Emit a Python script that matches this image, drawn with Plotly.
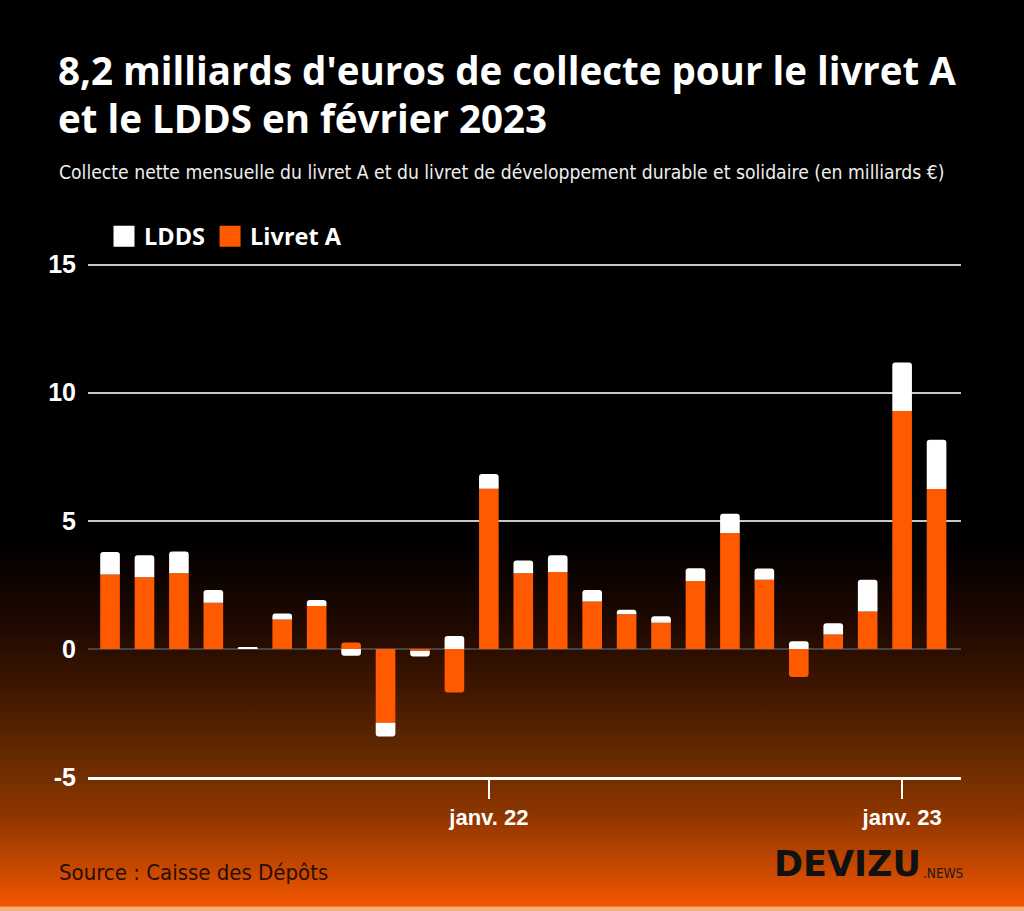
import base64
import plotly.graph_objects as go

# ---------------- data ----------------
months = ["2021-02", "2021-03", "2021-04", "2021-05", "2021-06", "2021-07", "2021-08",
          "2021-09", "2021-10", "2021-11", "2021-12", "2022-01", "2022-02", "2022-03",
          "2022-04", "2022-05", "2022-06", "2022-07", "2022-08", "2022-09", "2022-10",
          "2022-11", "2022-12", "2023-01", "2023-02"]
livret_a = [2.90, 2.80, 2.95, 1.80, 0.00, 1.15, 1.67, 0.25, -2.88, -0.08, -1.70, 6.25,
            2.95, 3.00, 1.85, 1.35, 1.02, 2.65, 4.52, 2.70, -1.10, 0.56, 1.46, 9.28, 6.24]
ldds = [0.88, 0.85, 0.85, 0.50, 0.06, 0.23, 0.24, -0.27, -0.54, -0.22, 0.50, 0.58,
        0.50, 0.65, 0.45, 0.18, 0.25, 0.50, 0.75, 0.44, 0.30, 0.44, 1.24, 1.90, 1.92]
tick_months = ["2022-01", "2023-01"]
tick_labels = ["janv. 22", "janv. 23"]
y_ticks = [-5, 0, 5, 10, 15]
y_tick_labels = ["-5", "0", "5", "10", "15"]

# ---------------- layout geometry ----------------
W, H = 1024, 911
ML, MR = 88, W - 961
Y0_PX, YTOP_PX = 777, 262.44
MT, MB = YTOP_PX, H - Y0_PX
PW, PH = W - ML - MR, H - MT - MB


def px_x(p):
    return (p - ML) / PW


def px_y(p):
    return (H - MB - p) / PH


ORANGE = "#ff5a00"
WHITE = "#ffffff"
NARROW = "Liberation Sans Narrow, DejaVu Sans Condensed"

# gradient background as svg
svg = f"""<svg xmlns='http://www.w3.org/2000/svg' width='{W}' height='{H}' preserveAspectRatio='none'>
<defs><linearGradient id='g' x1='0' y1='0' x2='0' y2='1'>
<stop offset='0' stop-color='#000000'/>
<stop offset='0.596' stop-color='#000000'/>
<stop offset='0.684' stop-color='#1e0800'/>
<stop offset='0.746' stop-color='#3a1400'/>
<stop offset='0.820' stop-color='#602800'/>
<stop offset='0.892' stop-color='#8c3500'/>
<stop offset='0.947' stop-color='#c04600'/>
<stop offset='0.991' stop-color='#f05500'/>
<stop offset='0.9945' stop-color='#f05500'/>
<stop offset='0.9956' stop-color='#f5b080'/>
<stop offset='1' stop-color='#f5b080'/>
</linearGradient></defs>
<rect x='0' y='0' width='{W}' height='{H}' fill='url(#g)'/></svg>"""
svg_uri = "data:image/svg+xml;base64," + base64.b64encode(svg.encode()).decode()

fig = go.Figure()
fig.add_trace(go.Bar(x=months, y=livret_a, name="Livret A", marker_color=ORANGE,
                     marker_line_width=0, showlegend=False, legendgroup="a"))
fig.add_trace(go.Bar(x=months, y=ldds, name="LDDS", marker_color=WHITE,
                     marker_line_width=0, showlegend=False, legendgroup="l"))
# legend proxies (bigger swatches)
fig.add_trace(go.Scatter(x=[None], y=[None], mode="markers", name="LDDS", legendgroup="l",
                         marker=dict(symbol="square", size=16, color=WHITE,
                                     line=dict(color=WHITE, width=6))))
fig.add_trace(go.Scatter(x=[None], y=[None], mode="markers", name="Livret A", legendgroup="a",
                         marker=dict(symbol="square", size=16, color=ORANGE,
                                     line=dict(color=ORANGE, width=6))))

annotations = [
    dict(text="<b>8,2 milliards d'euros de collecte pour le livret A</b>",
         x=px_x(56), y=px_y(71), xanchor="left", yanchor="middle",
         font=dict(family="Open Sans", size=38.5, color="white")),
    dict(text="<b>et le LDDS en février 2023</b>",
         x=px_x(56), y=px_y(119), xanchor="left", yanchor="middle",
         font=dict(family="Open Sans", size=38.5, color="white")),
    dict(text="Collecte nette mensuelle du livret A et du livret de développement durable et solidaire (en milliards €)",
         x=px_x(57), y=px_y(173), xanchor="left", yanchor="middle",
         font=dict(family=NARROW, size=19.2, color="#eeeeee")),
    dict(text="Source : Caisse des Dépôts",
         x=px_x(57), y=px_y(872), xanchor="left", yanchor="middle",
         font=dict(family=NARROW, size=22, color="#2a0e00")),
    dict(text="<b>DEVIZU</b>",
         x=px_x(923), y=px_y(864), xanchor="right", yanchor="middle",
         font=dict(family="DejaVu Sans", size=35, color="#111111")),
    dict(text=".NEWS",
         x=px_x(921), y=px_y(873), xanchor="left", yanchor="middle",
         font=dict(family=NARROW, size=13.5, color="#1a1a1a")),
]
for a in annotations:
    a.update(xref="paper", yref="paper", showarrow=False)

fig.update_layout(
    width=W, height=H,
    margin=dict(l=ML, r=MR, t=MT, b=MB, pad=0),
    paper_bgcolor="#000000", plot_bgcolor="rgba(0,0,0,0)",
    barmode="relative", bargap=0.43, barcornerradius=3,
    font=dict(family="Liberation Sans", color="white"),
    showlegend=True,
    legend=dict(orientation="h", x=px_x(104), y=px_y(215), xanchor="left", yanchor="top",
                font=dict(family="Open Sans", size=23.5, color="white", weight="bold"),
                bgcolor="rgba(0,0,0,0)", itemwidth=30, traceorder="normal",
                itemclick=False, itemdoubleclick=False),
    images=[dict(source=svg_uri, xref="paper", yref="paper", x=px_x(0), y=px_y(0),
                 sizex=W / PW, sizey=H / PH, xanchor="left", yanchor="top",
                 sizing="stretch", layer="below")],
    annotations=annotations,
)
fig.update_xaxes(type="category", categoryorder="array", categoryarray=months,
                 range=[-0.64, 24.71], showgrid=False, zeroline=False,
                 showline=True, linecolor="white", linewidth=2.5,
                 tickmode="array", tickvals=tick_months, ticktext=tick_labels,
                 ticks="outside", ticklen=19, tickwidth=2, tickcolor="white",
                 ticklabelstandoff=0,
                 tickfont=dict(family="Liberation Sans", size=22, color="white", weight="bold"),
                 fixedrange=True)
fig.update_yaxes(range=[-5, 15.1], tickmode="array", tickvals=y_ticks, ticktext=y_tick_labels,
                 showgrid=True, gridcolor="#c8c8c8", gridwidth=1.5,
                 zeroline=True, zerolinecolor="#444444", zerolinewidth=1.5,
                 ticks="", ticklabelstandoff=11, showline=False,
                 tickfont=dict(family="Liberation Sans", size=25, color="white", weight="bold"),
                 fixedrange=True)

fig.write_html("out.html", config={"displayModeBar": False})
